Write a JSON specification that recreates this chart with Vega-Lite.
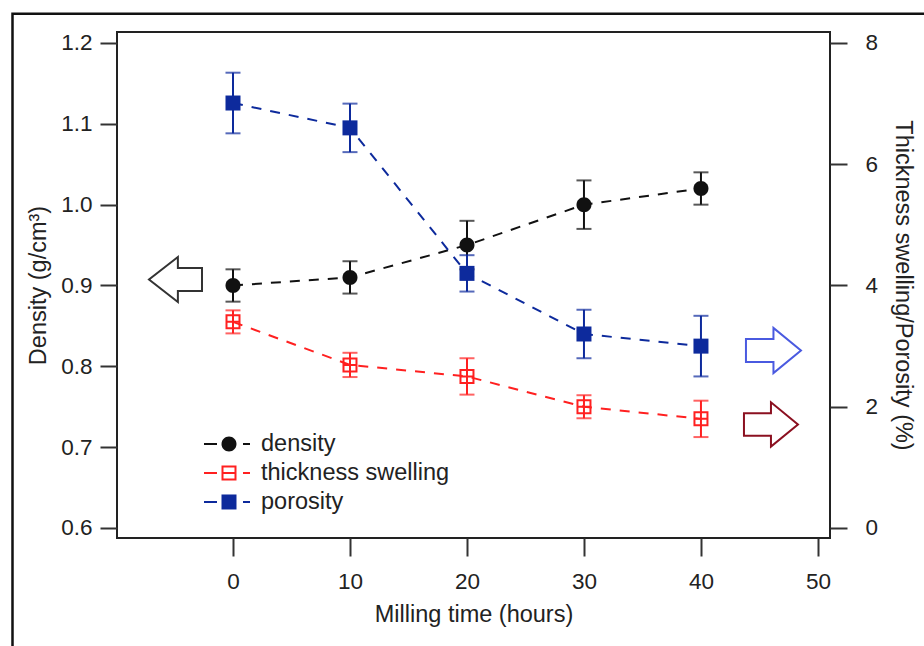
{
  "$schema": "https://vega.github.io/schema/vega-lite/v6.json",
  "width": 713,
  "height": 506,
  "autosize": {"type": "none"},
  "padding": {"left": 117, "top": 32, "right": 94, "bottom": 108},
  "background": "white",
  "config": {
    "view": {"stroke": "#222", "strokeWidth": 2},
    "font": "Liberation Sans",
    "axis": {
      "labelFont": "Liberation Sans",
      "titleFont": "Liberation Sans",
      "labelFontSize": 22.5,
      "titleFontSize": 23.5,
      "titleFontWeight": "normal",
      "labelColor": "#222",
      "titleColor": "#222",
      "tickColor": "#333",
      "tickWidth": 2,
      "domain": false,
      "labelOverlap": false,
      "labelFlush": false,
      "grid": false
    }
  },
  "datasets": {
    "main": [
      {"series": "density", "t": 0, "value": 0.90, "err": 0.02},
      {"series": "density", "t": 10, "value": 0.91, "err": 0.02},
      {"series": "density", "t": 20, "value": 0.95, "err": 0.03},
      {"series": "density", "t": 30, "value": 1.00, "err": 0.03},
      {"series": "density", "t": 40, "value": 1.02, "err": 0.02},
      {"series": "thickness swelling", "t": 0, "value": 3.40, "err": 0.19},
      {"series": "thickness swelling", "t": 10, "value": 2.69, "err": 0.2},
      {"series": "thickness swelling", "t": 20, "value": 2.50, "err": 0.3},
      {"series": "thickness swelling", "t": 30, "value": 2.00, "err": 0.19},
      {"series": "thickness swelling", "t": 40, "value": 1.80, "err": 0.3},
      {"series": "porosity", "t": 0, "value": 7.01, "err": 0.5},
      {"series": "porosity", "t": 10, "value": 6.60, "err": 0.4},
      {"series": "porosity", "t": 20, "value": 4.20, "err": 0.3},
      {"series": "porosity", "t": 30, "value": 3.20, "err": 0.4},
      {"series": "porosity", "t": 40, "value": 3.00, "err": 0.5}
    ]
  },
  "data": {"name": "main"},
  "encoding": {
    "x": {
      "field": "t",
      "type": "quantitative",
      "scale": {"domain": [-9.915, 51.03], "nice": false, "zero": false},
      "axis": {
        "values": [0, 10, 20, 30, 40, 50],
        "tickSize": 18,
        "labelPadding": 14,
        "title": "Milling time (hours)",
        "titlePadding": 10
      }
    }
  },
  "layer": [
    {
      "encoding": {
        "y": {
          "field": "value",
          "type": "quantitative",
          "scale": {"domain": [0.5876, 1.2136], "nice": false, "zero": false},
          "axis": {
            "orient": "left",
            "title": "Density (g/cm³)",
            "values": [0.6, 0.7, 0.8, 0.9, 1.0, 1.1, 1.2],
            "tickSize": 17,
            "format": ".1f",
            "labelPadding": 8,
            "titlePadding": 10
          }
        }
      },
      "layer": [
        {
          "transform": [{"filter": "datum.series === 'density' && datum.t === 0"}],
          "mark": {"type": "rect", "filled": false, "stroke": "#111111", "strokeWidth": 2.5, "xOffset": -220.5, "x2Offset": 767, "yOffset": -271.8, "y2Offset": 515},
          "encoding": {"x2": {"field": "t"}, "y2": {"field": "value"}}
        },
        {
          "transform": [{"filter": "datum.series === 'density'"}],
          "mark": {"type": "line", "strokeDash": [10, 9], "strokeWidth": 2, "color": "#111111"}
        },
        {
          "transform": [{"filter": "datum.series === 'density'"}],
          "mark": {"type": "errorbar", "ticks": {"thickness": 2}, "rule": {"strokeWidth": 2}, "size": 15, "thickness": 2, "color": "#111111"},
          "encoding": {"yError": {"field": "err"}}
        },
        {
          "transform": [{"filter": "datum.series === 'density'"}],
          "mark": {"type": "point", "filled": true, "size": 225, "opacity": 1, "color": "#111111", "shape": "M-1,0A1,1 0 1,0 1,0A1,1 0 1,0 -1,0Z"}
        },
        {
          "transform": [{"filter": "datum.series === 'density' && datum.t === 0"}],
          "mark": {"type": "point", "shape": "M1,-0.43H0.09V-0.85L-1,0L0.09,0.85V0.43H1Z", "size": 2809, "filled": true, "fill": "white", "stroke": "#333333", "strokeWidth": 2, "opacity": 1, "xOffset": -57.5, "yOffset": -6}
        },
        {
          "transform": [{"filter": "datum.series === 'density' && datum.t === 0"}],
          "mark": {"type": "rule", "strokeDash": [13, 26], "strokeWidth": 2, "color": "#111111", "xOffset": -29, "x2Offset": 17, "yOffset": 158.5},
          "encoding": {"x2": {"field": "t"}}
        },
        {
          "transform": [{"filter": "datum.series === 'density' && datum.t === 0"}],
          "mark": {"type": "point", "filled": true, "size": 225, "opacity": 1, "color": "#111111", "shape": "M-1,0A1,1 0 1,0 1,0A1,1 0 1,0 -1,0Z", "xOffset": -4, "yOffset": 158.5}
        },
        {
          "transform": [{"filter": "datum.series === 'density' && datum.t === 0"}],
          "mark": {"type": "text", "align": "left", "baseline": "middle", "font": "Liberation Sans", "fontSize": 23.5, "color": "#222222", "xOffset": 28, "yOffset": 158.5, "text": "density"}
        },
        {
          "transform": [{"filter": "datum.series === 'density' && datum.t === 0"}],
          "mark": {"type": "rule", "strokeDash": [13, 26], "strokeWidth": 2, "color": "#ff2020", "xOffset": -29, "x2Offset": 17, "yOffset": 187.5},
          "encoding": {"x2": {"field": "t"}}
        },
        {
          "transform": [{"filter": "datum.series === 'density' && datum.t === 0"}],
          "mark": {"type": "point", "filled": false, "size": 169, "strokeWidth": 2, "opacity": 1, "color": "#ff2020", "shape": "M-1,-1H1V1H-1Z M-1,0H1", "xOffset": -4, "yOffset": 187.5}
        },
        {
          "transform": [{"filter": "datum.series === 'density' && datum.t === 0"}],
          "mark": {"type": "text", "align": "left", "baseline": "middle", "font": "Liberation Sans", "fontSize": 23.5, "color": "#222222", "xOffset": 28, "yOffset": 187.5, "text": "thickness swelling"}
        },
        {
          "transform": [{"filter": "datum.series === 'density' && datum.t === 0"}],
          "mark": {"type": "rule", "strokeDash": [13, 26], "strokeWidth": 2, "color": "#0d2a9c", "xOffset": -29, "x2Offset": 17, "yOffset": 216.5},
          "encoding": {"x2": {"field": "t"}}
        },
        {
          "transform": [{"filter": "datum.series === 'density' && datum.t === 0"}],
          "mark": {"type": "point", "filled": true, "size": 225, "opacity": 1, "color": "#0d2a9c", "shape": "M-1,-1H1V1H-1Z", "xOffset": -4, "yOffset": 216.5}
        },
        {
          "transform": [{"filter": "datum.series === 'density' && datum.t === 0"}],
          "mark": {"type": "text", "align": "left", "baseline": "middle", "font": "Liberation Sans", "fontSize": 23.5, "color": "#222222", "xOffset": 28, "yOffset": 216.5, "text": "porosity"}
        }
      ]
    },
    {
      "encoding": {
        "y": {
          "field": "value",
          "type": "quantitative",
          "scale": {"domain": [-0.165, 8.1814], "nice": false, "zero": false},
          "axis": {
            "orient": "right",
            "title": "Thickness swelling/Porosity (%)",
            "values": [0, 2, 4, 6, 8],
            "tickSize": 17,
            "labelPadding": 18,
            "titlePadding": 13
          }
        }
      },
      "layer": [
        {
          "transform": [{"filter": "datum.series !== 'density'"}],
          "mark": {"type": "line", "strokeDash": [10, 9], "strokeWidth": 2},
          "encoding": {
            "stroke": {"field": "series", "type": "nominal", "scale": {"domain": ["density", "thickness swelling", "porosity"], "range": ["#111111", "#ff2020", "#0d2a9c"]}, "legend": null}
          }
        },
        {
          "transform": [{"filter": "datum.series !== 'density'"}],
          "mark": {"type": "errorbar", "ticks": {"thickness": 2}, "rule": {"strokeWidth": 2}, "size": 15, "thickness": 2},
          "encoding": {
            "yError": {"field": "err"},
            "color": {"field": "series", "type": "nominal", "scale": {"domain": ["density", "thickness swelling", "porosity"], "range": ["#111111", "#ff2020", "#0d2a9c"]}, "legend": null}
          }
        },
        {
          "transform": [{"filter": "datum.series === 'thickness swelling'"}],
          "mark": {"type": "point", "filled": false, "size": 169, "strokeWidth": 2, "opacity": 1, "color": "#ff2020", "shape": "M-1,-1H1V1H-1Z M-1,0H1"}
        },
        {
          "transform": [{"filter": "datum.series === 'porosity'"}],
          "mark": {"type": "point", "filled": true, "size": 225, "opacity": 1, "color": "#0d2a9c", "shape": "M-1,-1H1V1H-1Z"}
        },
        {
          "transform": [{"filter": "datum.series === 'porosity' && datum.t === 40"}],
          "mark": {"type": "point", "shape": "M-1,-0.42H0V-0.82L1,0L0,0.82V0.42H-1Z", "size": 3025, "filled": true, "fill": "white", "stroke": "#4a5ae0", "strokeWidth": 2, "opacity": 1, "xOffset": 72.5, "yOffset": 4.4}
        },
        {
          "transform": [{"filter": "datum.series === 'thickness swelling' && datum.t === 40"}],
          "mark": {"type": "point", "shape": "M-1,-0.42H0V-0.82L1,0L0,0.82V0.42H-1Z", "size": 2916, "filled": true, "fill": "white", "stroke": "#8b1020", "strokeWidth": 2, "opacity": 1, "xOffset": 70, "yOffset": 5.6}
        }
      ]
    }
  ],
  "resolve": {"scale": {"y": "independent"}}
}
